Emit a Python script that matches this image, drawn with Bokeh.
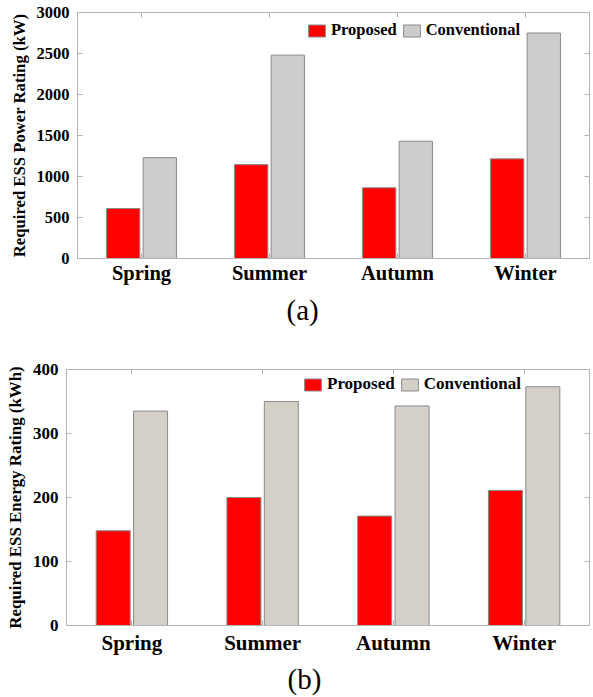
from bokeh.plotting import figure
from bokeh.models import (ColumnDataSource, FactorRange, Range1d, Legend, LegendItem,
                          LinearAxis, CategoricalAxis, Title, SingleIntervalTicker)
from bokeh.transform import dodge
from bokeh.layouts import column
from bokeh.embed import file_html
from bokeh.resources import INLINE

seasons = ["Spring", "Summer", "Autumn", "Winter"]
power_proposed = [610, 1145, 862, 1215]
power_conventional = [1230, 2480, 1430, 2750]
energy_proposed = [148, 200, 171, 211]
energy_conventional = [335, 350, 343, 373]

FONT = "Liberation Serif"
FRAME = "#b4b4b4"


def make_chart(prop, conv, ymax, ystep, ylabel, caption, gray, height,
               mb_left, mb_top, tick_fs, xtick_fs, ylab_fs, leg_fs,
               leg_loc, cap_offset, cap_standoff, xstandoff):
    src = ColumnDataSource(dict(season=seasons, prop=prop, conv=conv))
    p = figure(x_range=FactorRange(*seasons, range_padding=0),
               y_range=Range1d(0, ymax), width=593, height=height,
               output_backend="svg", toolbar_location=None,
               min_border_left=mb_left, min_border_top=mb_top,
               min_border_right=1, min_border_bottom=0)
    p.frame_align = False
    r1 = p.vbar(x=dodge("season", -0.143, range=p.x_range), top="prop", width=0.26,
                source=src, fill_color="#ff0000", line_color="#8a8a8a", line_width=1)
    r2 = p.vbar(x=dodge("season", 0.143, range=p.x_range), top="conv", width=0.26,
                source=src, fill_color=gray, line_color="#8a8a8a", line_width=1)
    p.xgrid.visible = False
    p.ygrid.visible = False
    p.outline_line_color = FRAME
    p.outline_line_width = 1

    p.yaxis.ticker = SingleIntervalTicker(interval=ystep)
    p.yaxis.axis_label = ylabel
    p.yaxis.axis_label_text_font = FONT
    p.yaxis.axis_label_text_font_style = "bold"
    p.yaxis.axis_label_text_font_size = ylab_fs
    p.yaxis.axis_label_standoff = 5
    p.yaxis.major_label_text_font = FONT
    p.yaxis.major_label_text_font_style = "bold"
    p.yaxis.major_label_text_font_size = tick_fs
    p.yaxis.major_label_standoff = 4

    p.xaxis.major_label_text_font = FONT
    p.xaxis.major_label_text_font_style = "bold"
    p.xaxis.major_label_text_font_size = xtick_fs
    p.xaxis.major_label_standoff = xstandoff

    for ax in (p.xaxis[0], p.yaxis[0]):
        ax.axis_line_color = FRAME
        ax.major_tick_in = 5
        ax.major_tick_out = 0
        ax.major_tick_line_color = FRAME
        ax.minor_tick_line_color = None
        ax.major_label_text_color = "black"
        ax.axis_label_text_color = "black"

    ra = LinearAxis(ticker=SingleIntervalTicker(interval=ystep))
    ta = CategoricalAxis()
    for ax in (ra, ta):
        ax.axis_line_color = None
        ax.major_tick_in = 5
        ax.major_tick_out = 0
        ax.major_tick_line_color = FRAME
        ax.minor_tick_line_color = None
        ax.major_label_text_font_size = "0px"
        ax.major_label_text_color = None
        ax.major_label_standoff = 0
    p.add_layout(ra, "right")
    p.add_layout(ta, "above")

    legend = Legend(items=[LegendItem(label="Proposed", renderers=[r1]),
                           LegendItem(label="Conventional", renderers=[r2])],
                    orientation="horizontal", location=leg_loc,
                    padding=0, margin=0, spacing=4, label_standoff=4,
                    glyph_width=21, glyph_height=15,
                    label_text_font=FONT, label_text_font_style="bold",
                    label_text_font_size=leg_fs, label_text_color="black",
                    background_fill_alpha=0, border_line_color=None)
    p.add_layout(legend)

    p.add_layout(Title(text=caption, align="left", offset=cap_offset,
                       text_font=FONT, text_font_style="normal",
                       text_font_size="29px", text_color="black",
                       standoff=cap_standoff), "below")
    return p


p1 = make_chart(power_proposed, power_conventional, 3000, 500,
                "Required ESS Power Rating (kW)", "(a)", "#cccccc", 330,
                77, 12, "16.5px", "20.5px", "16.7px", "16.5px", (229, 218), 209, 10, 3)
p2 = make_chart(energy_proposed, energy_conventional, 400, 100,
                "Required ESS Energy Rating (kWh)", "(b)", "#d4d0c8", 367,
                66, 39, "17px", "21px", "16.9px", "17px", (236, 231), 221, 6, 5)

layout = column(p1, p2, spacing=0)
open("out.html", "w").write(file_html(layout, INLINE))
